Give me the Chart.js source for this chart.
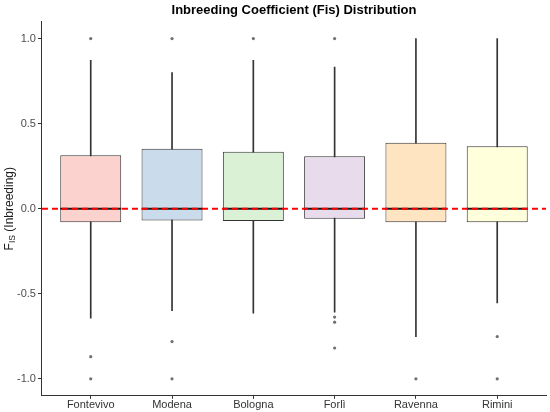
<!DOCTYPE html>
<html lang="en">
<head>
    <meta charset="UTF-8">
    <title>Inbreeding Coefficient (Fis) Distribution</title>
    <script src="https://cdn.jsdelivr.net/npm/chart.js"></script>
    <style>
        html, body { margin: 0; padding: 0; background: #ffffff; }
        #wrap { width: 550px; height: 412px; }
    </style>
</head>
<body>
    <div id="wrap"><canvas id="fis-chart"></canvas></div>
    <script>
        // values
        const populations = ["Fontevivo", "Modena", "Bologna", "Forlì", "Ravenna", "Rimini"];
        const whiskerLow  = [-0.643, -0.600, -0.614, -0.608, -0.752, -0.554];
        const q1          = [-0.079, -0.069, -0.073, -0.059, -0.079, -0.079];
        const median      = [0.0, 0.0, 0.0, 0.0, 0.0, 0.0];
        const q3          = [0.314, 0.353, 0.335, 0.309, 0.388, 0.367];
        const whiskerHigh = [0.872, 0.800, 0.872, 0.832, 1.0, 1.0];
        const outliers = [
            [1.0, -0.87, -1.0],
            [1.0, -0.781, -1.0],
            [1.0],
            [1.0, -0.637, -0.667, -0.819],
            [-1.0],
            [-0.752, -1.0]
        ];
        const boxColors = ["#fcd2ce", "#cadceb", "#dbf1d6", "#e8dbec", "#fee4c1", "#ffffdb"];
        const yTicks = [-1.0, -0.5, 0.0, 0.5, 1.0];

        const FONT = "'Liberation Sans', Arial, sans-serif";

        const pos = populations.map((p, i) => i + 1);
        const whiskerData = pos.map((x, i) => ({ x: x, y: [whiskerLow[i], whiskerHigh[i]] }));
        const boxData = pos.map((x, i) => ({ x: x, y: [q1[i], q3[i]] }));
        const medianData = pos.map((x, i) => ({ x: x, y: median[i] }));
        const outlierData = [];
        outliers.forEach((list, i) => list.forEach(v => outlierData.push({ x: pos[i], y: v })));

        // dashed zero reference + y title with subscript
        const extras = {
            id: "extras",
            afterDatasetsDraw(chart) {
                const { ctx, chartArea, scales } = chart;
                const y0 = scales.y.getPixelForValue(0);
                ctx.save();
                ctx.strokeStyle = "#ff0000";
                ctx.lineWidth = 2;
                ctx.setLineDash([6, 4]);
                ctx.beginPath();
                ctx.moveTo(chartArea.left, y0);
                ctx.lineTo(chartArea.right, y0);
                ctx.stroke();
                ctx.restore();
            },
            afterDraw(chart) {
                const { ctx, chartArea } = chart;
                const cy = (chartArea.top + chartArea.bottom) / 2;
                ctx.save();
                ctx.translate(10, cy);
                ctx.rotate(-Math.PI / 2);
                ctx.fillStyle = "#1a1a1a";
                ctx.textBaseline = "middle";
                const main = "F";
                const sub = "IS";
                const rest = " (Inbreeding)";
                ctx.font = "12px " + FONT;
                const wF = ctx.measureText(main).width;
                const wRest = ctx.measureText(rest).width;
                ctx.font = "8.5px " + FONT;
                const wSub = ctx.measureText(sub).width;
                let x = -(wF + wSub + wRest) / 2;
                ctx.font = "12px " + FONT;
                ctx.fillText(main, x, 0);
                x += wF;
                ctx.font = "8.5px " + FONT;
                ctx.fillText(sub, x, 3);
                x += wSub;
                ctx.font = "12px " + FONT;
                ctx.fillText(rest, x, 0);
                ctx.restore();
            }
        };

        new Chart(document.getElementById("fis-chart"), {
            type: "bar",
            data: {
                datasets: [
                    {
                        label: "whiskers",
                        data: whiskerData,
                        backgroundColor: "#333333",
                        barThickness: 1,
                        grouped: false,
                        order: 4
                    },
                    {
                        label: "boxes",
                        data: boxData,
                        backgroundColor: boxColors,
                        borderColor: "#333333",
                        borderWidth: 1,
                        borderSkipped: false,
                        barPercentage: 0.75,
                        categoryPercentage: 1,
                        grouped: false,
                        order: 3
                    },
                    {
                        type: "line",
                        label: "median",
                        data: medianData,
                        showLine: false,
                        pointStyle: "line",
                        pointRadius: 30.5,
                        pointBorderWidth: 2,
                        pointBorderColor: "#1a1a1a",
                        order: 2
                    },
                    {
                        type: "line",
                        label: "outliers",
                        data: outlierData,
                        showLine: false,
                        pointStyle: "circle",
                        pointRadius: 1.6,
                        pointBorderWidth: 0,
                        pointBackgroundColor: "#707070",
                        order: 1
                    }
                ]
            },
            options: {
                responsive: true,
                maintainAspectRatio: false,
                animation: false,
                layout: { autoPadding: false, padding: { left: 15, right: 4, top: 0, bottom: 0 } },
                plugins: {
                    legend: { display: false },
                    tooltip: { enabled: false },
                    title: {
                        display: true,
                        text: "Inbreeding Coefficient (Fis) Distribution",
                        color: "#000000",
                        fullSize: false,
                        font: { family: FONT, size: 13, weight: "bold" },
                        padding: { top: 3, bottom: 3 }
                    }
                },
                scales: {
                    x: {
                        type: "linear",
                        min: 0.4,
                        max: 6.6,
                        offset: false,
                        afterBuildTicks(scale) {
                            scale.ticks = pos.map(v => ({ value: v }));
                        },
                        ticks: {
                            autoSkip: false,
                            maxRotation: 0,
                            padding: 0,
                            color: "#333333",
                            font: { family: FONT, size: 11 },
                            callback: v => populations[v - 1]
                        },
                        grid: { offset: false, drawOnChartArea: false, tickLength: 3, color: "#333333" },
                        border: { color: "#333333", width: 1 }
                    },
                    y: {
                        min: -1.1,
                        max: 1.1,
                        afterBuildTicks(scale) {
                            scale.ticks = yTicks.map(v => ({ value: v }));
                        },
                        ticks: {
                            padding: 2,
                            color: "#4d4d4d",
                            font: { family: FONT, size: 11 },
                            callback: v => v.toFixed(1)
                        },
                        grid: { drawOnChartArea: false, tickLength: 4, color: "#333333" },
                        border: { color: "#333333", width: 1 }
                    }
                }
            },
            plugins: [extras]
        });
    </script>
</body>
</html>
